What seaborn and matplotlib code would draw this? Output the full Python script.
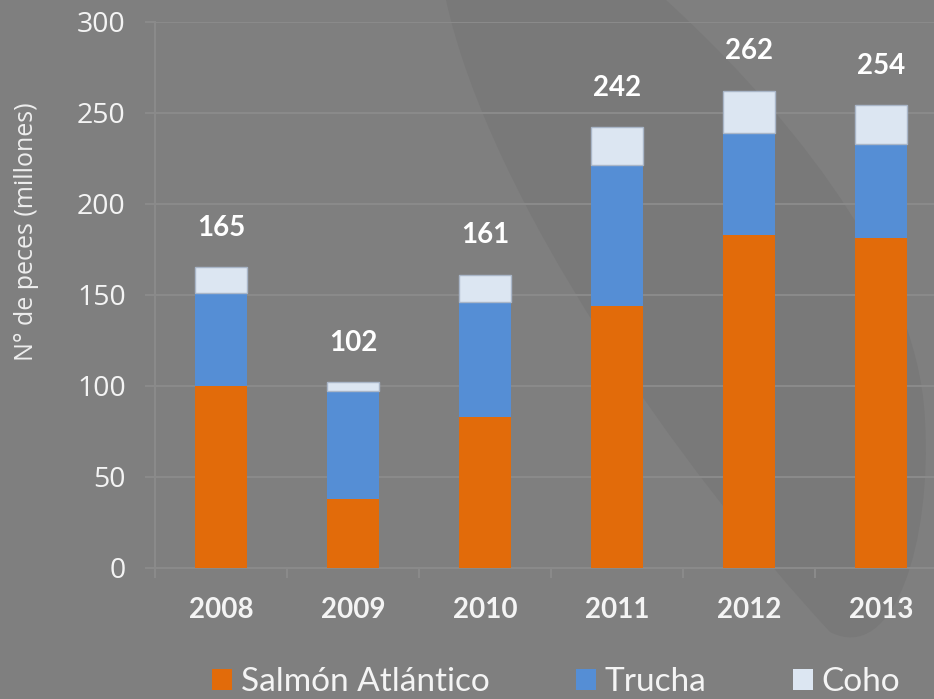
import matplotlib
matplotlib.use("Agg")
import matplotlib.pyplot as plt
from matplotlib.path import Path
from matplotlib.patches import PathPatch, Patch
from matplotlib.ticker import FixedLocator
import numpy as np
import seaborn as sns

# Fish harvested per year (millions), stacked by species
years = ["2008", "2009", "2010", "2011", "2012", "2013"]
salmon = [100, 38, 83, 144, 183, 181]
trucha = [51, 59, 63, 77, 56, 52]
coho = [14, 5, 15, 21, 23, 21]
series_names = ["Salmón Atlántico", "Trucha", "Coho"]
y_ticks = [0, 50, 100, 150, 200, 250, 300]

BG = "#7f7f7f"
SWOOSH = "#797979"
GRID = "#8b8b8b"
TXT = "#f4f4f4"
C_SALMON = "#e26b0a"
C_TRUCHA = "#558ed5"
C_COHO = "#dce6f2"

sns.set_theme(style="white")
plt.rcParams["font.family"] = ["Lato", "DejaVu Sans"]

W, H = 934, 699
fig = plt.figure(figsize=(W / 100, H / 100), dpi=100, facecolor=BG)

# decorative swoosh in the background
def fp(x, y):
    return (x / W, 1 - y / H)

verts = [fp(446, 0),
         fp(490, 200), fp(680, 470), fp(830, 632),
         fp(895, 665), fp(932, 540), fp(925, 420),
         fp(918, 260), fp(770, 95), fp(666, 0),
         fp(446, 0)]
codes = [Path.MOVETO,
         Path.CURVE4, Path.CURVE4, Path.CURVE4,
         Path.CURVE4, Path.CURVE4, Path.CURVE4,
         Path.CURVE4, Path.CURVE4, Path.CURVE4,
         Path.CLOSEPOLY]
fig.patches.append(PathPatch(Path(verts, codes), transform=fig.transFigure,
                             facecolor=SWOOSH, edgecolor="none", zorder=-1))

x0, x1 = 155, 947
y_bot, y_top = 568, 21.5
ax = fig.add_axes([x0 / W, 1 - y_bot / H, (x1 - x0) / W, (y_bot - y_top) / H])
ax.set_facecolor("none")

s = np.array(salmon)
t = np.array(trucha)
c = np.array(coho)
totals = s + t + c

sns.barplot(x=years, y=salmon, color=C_SALMON, saturation=1, width=0.4,
            errorbar=None, ax=ax, linewidth=0, zorder=3)
sns.barplot(x=years, y=trucha, bottom=s, color=C_TRUCHA, saturation=1,
            width=0.4, errorbar=None, ax=ax, linewidth=0, zorder=3)
sns.barplot(x=years, y=coho, bottom=s + t, color=C_COHO, saturation=1,
            width=0.4, errorbar=None, ax=ax, edgecolor="#a9b6c8",
            linewidth=1.0, zorder=3)

ax.set_xlim(-0.5, 5.5)
ax.set_ylim(0, 300)
ax.set_yticks(y_ticks)
ax.set_xticks(range(len(years)), years, fontweight="bold")
ax.set_xlabel("")
ax.set_ylabel("")

# grid and axis lines
ax.yaxis.grid(True, color=GRID, linewidth=1.4, zorder=0)
ax.xaxis.grid(False)
ax.set_axisbelow(True)
for side in ["top", "right"]:
    ax.spines[side].set_visible(False)
for side in ["left", "bottom"]:
    ax.spines[side].set_color(GRID)
    ax.spines[side].set_linewidth(1.4)

ax.tick_params(axis="y", which="major", length=7, width=1.4, color=GRID,
               pad=14, labelsize=20.5, labelcolor=TXT, left=True)
ax.tick_params(axis="x", which="major", length=0, pad=21, labelsize=20,
               labelcolor=TXT)
ax.xaxis.set_minor_locator(FixedLocator(np.arange(-0.5, 6.0, 1.0)))
ax.tick_params(axis="x", which="minor", length=7, width=1.4, color=GRID,
               bottom=True)
for lab in ax.get_yticklabels():
    lab.set_fontfamily(["Open Sans", "DejaVu Sans"])

# totals above each stack
for i, tot in enumerate(totals):
    ax.annotate(f"{tot}", (i, tot), xytext=(0, 19), textcoords="offset points",
                ha="center", va="bottom", fontsize=20, fontweight="bold",
                color="white", zorder=5)

fig.text(27 / W, 1 - 232 / H, "N° de peces (millones)", rotation=90,
         ha="center", va="center", fontsize=18, color="#eeeeee",
         family=["Open Sans", "DejaVu Sans"])

handles = [Patch(facecolor=C_SALMON, edgecolor="none"),
           Patch(facecolor=C_TRUCHA, edgecolor="none"),
           Patch(facecolor=C_COHO, edgecolor="none")]
leg = fig.legend(handles, series_names, loc="center", ncol=3,
                 bbox_to_anchor=(556 / W, 1 - 682 / H), frameon=False,
                 fontsize=24, handlelength=0.6, handleheight=0.6,
                 handletextpad=0.25, columnspacing=2.6, borderpad=0,
                 borderaxespad=0)
for txt in leg.get_texts():
    txt.set_color(TXT)

fig.savefig("out.png", dpi=100, facecolor=BG)
